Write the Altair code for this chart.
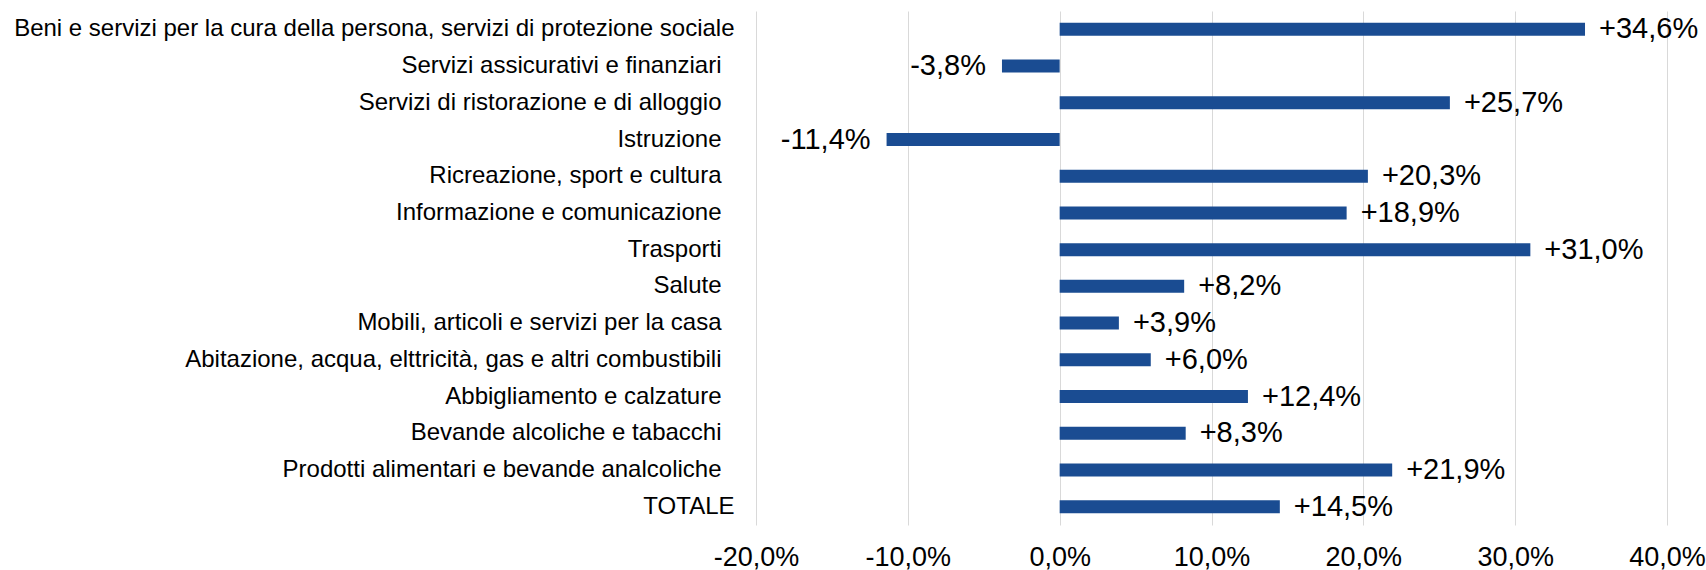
import altair as alt
import pandas as pd

categories = [
    "Beni e servizi per la cura della persona, servizi di protezione sociale",
    "Servizi assicurativi e finanziari",
    "Servizi di ristorazione e di alloggio",
    "Istruzione",
    "Ricreazione, sport e cultura",
    "Informazione e comunicazione",
    "Trasporti",
    "Salute",
    "Mobili, articoli e servizi per la casa",
    "Abitazione, acqua, elttricità, gas e altri combustibili",
    "Abbigliamento e calzature",
    "Bevande alcoliche e tabacchi",
    "Prodotti alimentari e bevande analcoliche",
    "TOTALE",
]
values = [34.6, -3.8, 25.7, -11.4, 20.3, 18.9, 31.0, 8.2, 3.9, 6.0, 12.4, 8.3, 21.9, 14.5]
x_ticks = [-20, -10, 0, 10, 20, 30, 40]
flush_labels = [categories[0], "TOTALE"]

df = pd.DataFrame({"cat": categories, "value": values})

FONT = "Liberation Sans"
BLUE = "#1a4c92"

test_expr = "indexof([" + ", ".join("'" + c + "'" for c in flush_labels) + "], datum.value) >= 0"

y_enc = alt.Y(
    "cat:N",
    sort=categories,
    title=None,
    scale=alt.Scale(paddingInner=0.65, paddingOuter=0.325),
    axis=alt.Axis(
        domain=False,
        ticks=False,
        grid=False,
        labelFont=FONT,
        labelFontSize=24,
        labelColor="#000000",
        labelPadding={"condition": {"test": test_expr, "value": 22}, "value": 35},
        labelLimit=800,
    ),
)

x_enc = alt.X(
    "value:Q",
    title=None,
    scale=alt.Scale(domain=[-20, 40], nice=False, zero=False),
    axis=alt.Axis(
        values=x_ticks,
        domain=False,
        ticks=False,
        grid=True,
        gridColor="#d9d9d9",
        gridWidth=1,
        labelFont=FONT,
        labelFontSize=27,
        labelColor="#000000",
        labelPadding=19,
        labelFlush=False,
        labelExpr="(datum.value < 0 ? '-' : '') + replace(format(abs(datum.value), '.1f'), '.', ',') + '%'",
    ),
)

base = alt.Chart(df).transform_calculate(
    lab="(datum.value < 0 ? '-' : '+') + replace(format(abs(datum.value), '.1f'), '.', ',') + '%'"
)

bars = base.mark_bar(color=BLUE, size=13).encode(x=x_enc, x2=alt.datum(0), y=y_enc)

pos_text = base.transform_filter("datum.value >= 0").mark_text(
    align="left", baseline="middle", dx=14, font=FONT, fontSize=29, color="#000000"
).encode(x="value:Q", y=alt.Y("cat:N", sort=categories), text="lab:N")

neg_text = base.transform_filter("datum.value < 0").mark_text(
    align="right", baseline="middle", dx=-16, font=FONT, fontSize=29, color="#000000"
).encode(x="value:Q", y=alt.Y("cat:N", sort=categories), text="lab:N")

chart = (
    alt.layer(bars, pos_text, neg_text)
    .properties(
        width=911,
        height=514,
        autosize=alt.AutoSizeParams(type="none"),
        padding={"left": 756, "top": 11, "right": 39, "bottom": 45},
        background="white",
    )
    .configure_view(stroke=None)
)

chart.save("out.html", embed_options={"renderer": "svg", "actions": False})
